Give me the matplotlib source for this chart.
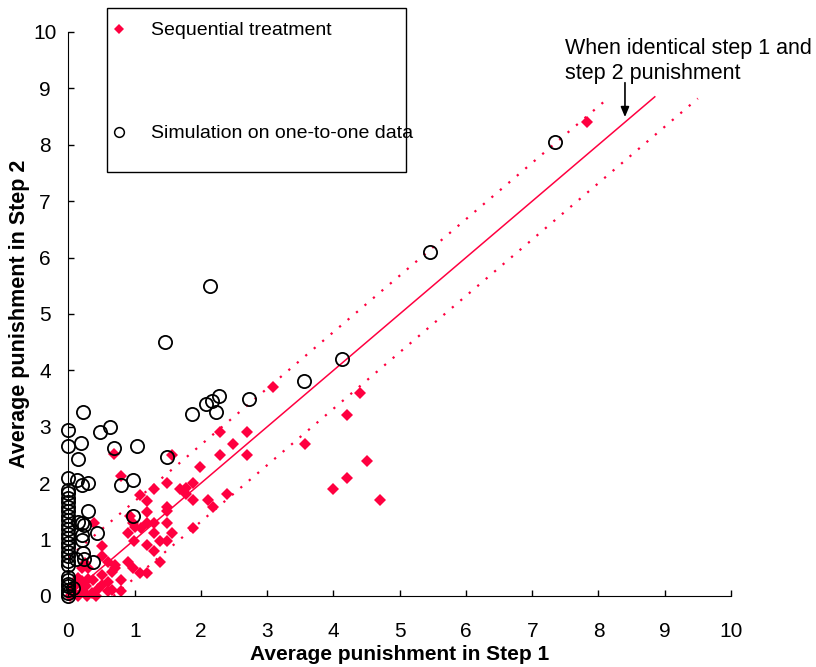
import matplotlib
matplotlib.use('Agg')
import matplotlib.pyplot as plt
from matplotlib.patches import Rectangle

plt.rcParams['font.family'] = ['Liberation Sans', 'DejaVu Sans']

RED = '#FF0040'

# simulation on one-to-one data (open circles)
sim_x = [0, 0, 0, 0, 0, 0, 0, 0, 0, 0, 0, 0, 0, 0, 0, 0, 0, 0, 0, 0, 0, 0, 0, 0, 0, 0, 0, 0,
         0.07, 0.12, 0.24, 0.37, 0.22, 0.2, 0.21, 0.43, 0.14, 0.2, 0.24, 0.3, 0.98,
         0.14, 0.13, 0.2, 0.3, 0.79, 0.97, 0.19, 0.68, 1.03, 0.48, 0.63, 0.22, 1.48,
         1.87, 2.08, 2.16, 2.27, 2.23, 2.72, 3.55, 4.13, 1.45, 2.13, 5.45, 7.35]
sim_y = [0.0, 0.05, 0.1, 0.17, 0.22, 0.28, 0.33, 0.55, 0.62, 0.7, 0.78, 0.86, 0.94, 1.02,
         1.1, 1.18, 1.26, 1.34, 1.42, 1.5, 1.58, 1.66, 1.74, 1.82, 1.88, 2.1, 2.66, 2.94,
         0.14, 0.66, 0.66, 0.61, 0.77, 0.99, 1.08, 1.12, 1.32, 1.29, 1.26, 1.5, 1.41,
         2.42, 2.06, 1.97, 2.01, 1.97, 2.06, 2.72, 2.62, 2.66, 2.9, 3.0, 3.27, 2.47,
         3.22, 3.41, 3.46, 3.55, 3.26, 3.5, 3.82, 4.2, 4.5, 5.5, 6.1, 8.05]

# sequential treatment (red diamonds)
seq_x = [0.02, 0.08, 0.15, 0.22, 0.28, 0.35, 0.42, 0.05, 0.12, 0.2, 0.3, 0.15, 0.27, 0.37,
         0.45, 0.5, 0.6, 0.8, 0.65, 0.6, 0.8, 0.5, 0.2, 0.3, 0.65, 0.7, 0.7, 0.6, 0.5, 0.25,
         0.5, 0.39, 0.9, 0.98, 1.08, 1.19, 1.38, 1.29, 0.99, 1.19, 1.38, 1.49, 0.9, 1.29,
         1.57, 1.0, 1.1, 1.88, 0.98, 1.18, 1.29, 1.49, 0.93, 1.19, 1.49, 1.49, 2.18, 1.19,
         1.88, 2.1, 1.08, 1.78, 2.39, 1.29, 1.68, 1.78, 1.49, 1.88, 1.98, 0.8, 1.57, 0.69,
         2.28, 2.69, 2.49, 2.28, 2.69, 3.08, 3.57, 4.2, 4.4, 4.0, 4.2, 4.5, 4.7, 7.82]
seq_y = [0.0, 0.05, 0.0, 0.08, 0.0, 0.05, 0.0, 0.15, 0.22, 0.27, 0.3, 0.32, 0.18, 0.28,
         0.12, 0.2, 0.09, 0.09, 0.1, 0.25, 0.28, 0.37, 0.49, 0.49, 0.43, 0.55, 0.49, 0.61,
         0.7, 0.58, 0.89, 1.29, 0.61, 0.49, 0.41, 0.41, 0.61, 0.79, 0.98, 0.9, 0.98, 0.98,
         1.11, 1.11, 1.11, 1.23, 1.2, 1.2, 1.29, 1.29, 1.3, 1.3, 1.41, 1.48, 1.5, 1.58,
         1.58, 1.69, 1.71, 1.71, 1.79, 1.8, 1.8, 1.89, 1.89, 1.91, 2.0, 2.0, 2.29, 2.12,
         2.5, 2.52, 2.5, 2.5, 2.7, 2.9, 2.9, 3.71, 2.7, 3.2, 3.6, 1.9, 2.1, 2.4, 1.7, 8.4]

# reference lines: identity and a band around it
diag_end = 8.85
band = 0.68
upper_end = 8.1
lower_end = 9.5

fig = plt.figure(figsize=(8.16, 6.67), dpi=100)
ax = fig.add_axes([0.0839, 0.1065, 0.8119, 0.8456])

ax.plot([0, diag_end], [0, diag_end], color=RED, lw=1.1)
ax.plot([0, upper_end], [band, upper_end + band], color=RED, lw=1.6, ls=(0, (1, 4)))
ax.plot([band, lower_end], [0, lower_end - band], color=RED, lw=1.6, ls=(0, (1, 4)))

ax.plot(seq_x, seq_y, 'D', color=RED, ms=6.5, mew=0, ls='none', clip_on=False,
        label='Sequential treatment')
ax.plot(sim_x, sim_y, 'o', mfc='none', mec='black', ms=9.5, mew=1.3, ls='none',
        clip_on=False, label='Simulation on one-to-one data')

ax.set_xlim(0, 10)
ax.set_ylim(0, 10)
ax.set_xticks(range(11))
ax.set_yticks(range(11))
ax.spines['top'].set_visible(False)
ax.spines['right'].set_visible(False)
ax.tick_params(direction='in', length=4.5, width=1, labelsize=15)
ax.tick_params(axis='x', pad=19)
ax.tick_params(axis='y', pad=17)
for lab in ax.get_yticklabels():
    lab.set_horizontalalignment('center')

ax.set_xlabel('Average punishment in Step 1', fontsize=15, fontweight='bold', labelpad=2.5)
ax.set_ylabel('Average punishment in Step 2', fontsize=15.5, fontweight='bold', labelpad=2)

ax.text(7.49, 9.9, 'When identical step 1 and\nstep 2 punishment', fontsize=15.5,
        va='top', ha='left', linespacing=1.27, clip_on=False)
ax.annotate('', xy=(8.4, 8.49), xytext=(8.4, 9.1),
            arrowprops=dict(arrowstyle='-|>,head_length=0.6,head_width=0.25',
                            color='black', lw=1.2, shrinkA=0, shrinkB=0))

leg = ax.legend(loc='upper left', bbox_to_anchor=(99.3 / 816, (667 - 12) / 667),
                bbox_transform=fig.transFigure, frameon=False, fontsize=14,
                borderpad=0, handlelength=1.0, handletextpad=1.15,
                labelspacing=4.4)
leg.legend_handles[0].set_markersize(5)
leg.legend_handles[1].set_markersize(7)
leg.legend_handles[1].set_markeredgewidth(1.1)
fig.patches.append(Rectangle((107 / 816, (667 - 172) / 667), (406 - 107) / 816,
                             (172 - 8) / 667, fill=False, ec='black', lw=1,
                             transform=fig.transFigure, figure=fig))

fig.savefig('out.png', dpi=100)
